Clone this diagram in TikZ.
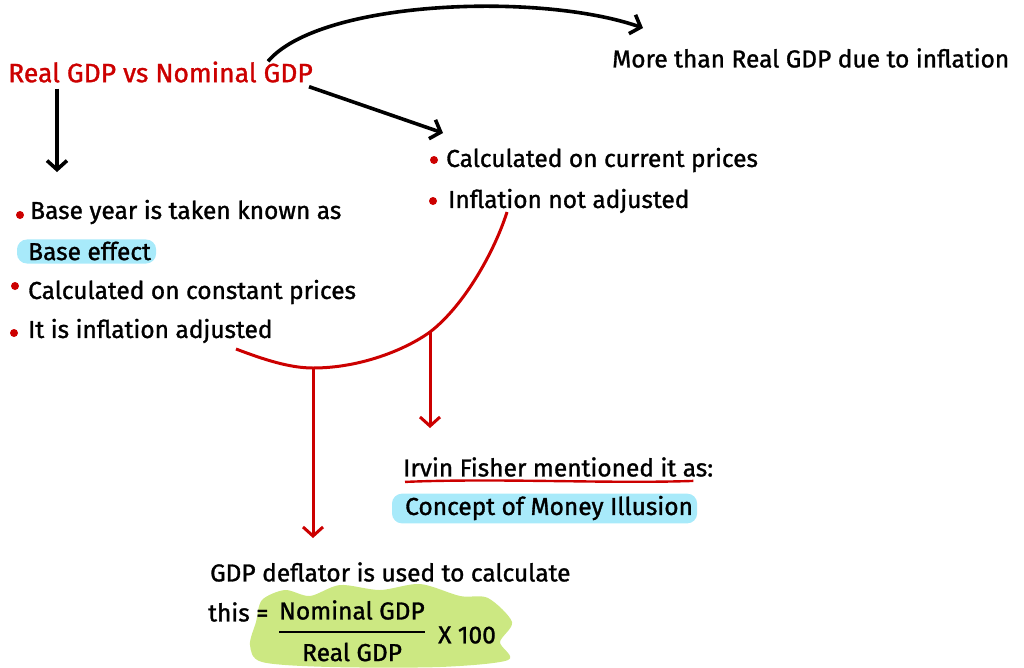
\documentclass[tikz,border=0pt]{standalone}
\usepackage{fontspec}
\setmainfont{Fira Sans}
\newfontfamily\handfont{Fira Sans}[FakeBold=1.2]
\usetikzlibrary{positioning,arrows.meta,backgrounds}
\definecolor{gdpred}{RGB}{204,0,0}
\definecolor{hlblue}{RGB}{168,234,250}
\definecolor{hlgreen}{RGB}{204,232,130}
\tikzset{
  txt/.style={anchor=west,inner sep=0pt,font=\handfont\fontsize{24.5}{28}\selectfont},
  arr/.style={line width=3.6pt,-{Straight Barb[length=9pt,width=20pt]}},
  redarr/.style={gdpred,line width=3pt,-{Straight Barb[length=9pt,width=20pt]}},
  bullet/.style={circle,fill=gdpred,inner sep=0pt,minimum size=8pt},
  hl/.style={fill=hlblue,rounded corners=10pt}
}

\begin{document}
\begin{tikzpicture}[x=1pt,y=-1pt]
    \useasboundingbox (0,0) rectangle (1024,667);
    \fill[hlgreen] plot[smooth cycle] coordinates {(262,600) (285,590) (310,596) (340,585) (380,590) (420,584) (460,596) (488,598) (512,622) (500,642) (508,660) (440,667) (330,667) (262,662) (250,645) (256,622)};

    \node[txt,gdpred,font=\handfont\fontsize{26.5}{30}\selectfont] (title) at (8,72) {Real GDP vs Nominal GDP};
    \node[txt] (more) at (612,58) {More than Real GDP due to inflation};

    \node[bullet] (d1) at (20,215) {};
    \node[txt] (base) at (30,212) {Base year is taken known as};
    \node[txt] (effect) at (28,251) {Base effect};
    \node[bullet] (d2) at (15,286) {};
    \node[txt] (const) at (28,292) {Calculated on constant prices};
    \node[bullet] (d3) at (14,333) {};
    \node[txt] (adj) at (28,331) {It is inflation adjusted};

    \node[bullet] (d4) at (434,160) {};
    \node[txt] (curr) at (446,160) {Calculated on current prices};
    \node[bullet] (d5) at (433,201) {};
    \node[txt] (notadj) at (448,201) {Inflation not adjusted};

    \node[txt] (fisher) at (403,467) {Irvin Fisher mentioned it as:};
    \node[txt] (money) at (405,508) {Concept of Money Illusion};

    \node[txt] (defl) at (210,572) {GDP deflator is used to calculate};
    \node[txt] (this) at (208,612) {this =};
    \node[txt] (num) at (279,610) {Nominal GDP};
    \node[txt] (den) at (302,652) {Real GDP};
    \node[txt] (times) at (438,635) {X 100};
    \draw[line width=2.4pt] (num.south west |- 0,632) -- (num.south east |- 0,632);

    % highlights behind the two notes
    \begin{scope}[on background layer]
      \fill[hl] ([shift={(-11pt,-3pt)}]effect.south west) rectangle ([shift={(5pt,2pt)}]effect.north east);
      \fill[hl] ([shift={(-13pt,-3pt)}]money.south west) rectangle ([shift={(4pt,2pt)}]money.north east);
    \end{scope}

    % ends of the connectors
    \coordinate (baseTop) at (57,172);
    \coordinate (currTop) at (443,133);
    \coordinate (moreTop) at (643,28);
    \coordinate (adjEnd) at (236,349);
    \coordinate (notEnd) at (507,212);
    \coordinate (arcA) at (313,368);
    \coordinate (arcB) at (430,332);
    \coordinate (deflTop) at (313,538);
    \coordinate (fisherTop) at (430,428);

    \draw[arr] ([yshift=-6pt]title.south west -| baseTop) -- (baseTop);
    \draw[arr] ([xshift=-4pt,yshift=-4pt]title.south east) -- (currTop);
    \draw[arr] ([xshift=-45pt]title.north east) .. controls (320,0) and (540,-8) .. (moreTop);

    \draw[gdpred,line width=3pt] (adjEnd) .. controls (265,360) and (290,368) .. (arcA)
      .. controls (360,368) and (405,350) .. (arcB)
      .. controls (465,305) and (495,250) .. (notEnd);
    \draw[redarr] (arcA) -- (deflTop);
    \draw[redarr] (arcB) -- (fisherTop);
    \draw[gdpred,line width=2.4pt] ([shift={(2pt,-5pt)}]fisher.south west) .. controls +(95,-4) and +(-85,3) .. ([shift={(-20pt,-4pt)}]fisher.south east);
\end{tikzpicture}
\end{document}
